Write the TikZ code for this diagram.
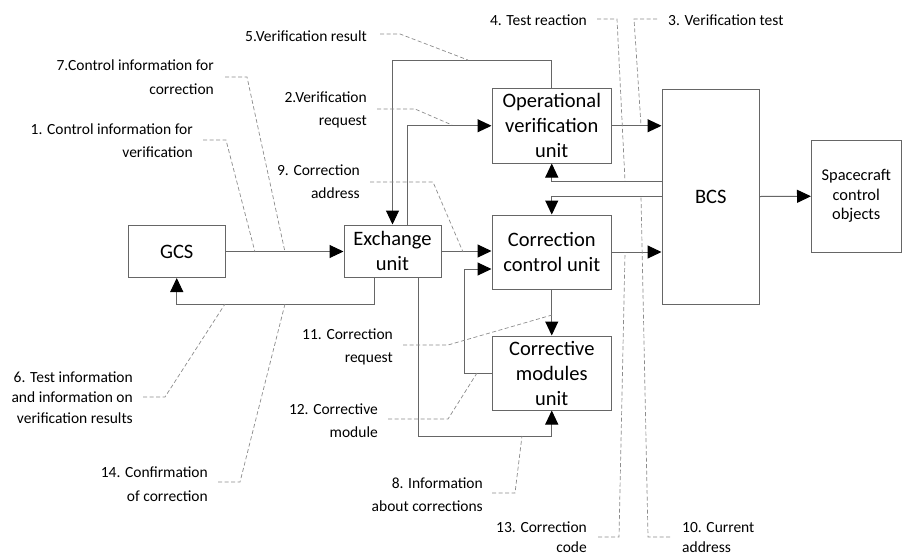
\documentclass[tikz,border=0pt]{standalone}
\usepackage{fontspec}
\setmainfont{Carlito}
\usetikzlibrary{arrows.meta}

\begin{document}
\begin{tikzpicture}[x=1pt,y=-1pt,
  blk/.style={draw=black!60, line width=1pt, inner sep=0pt, align=center,
              font=\fontsize{20.5}{25}\selectfont},
  arr/.style={draw=black!60, line width=1pt,
              -{Triangle[length=14pt,width=13pt,color=black]}},
  lead/.style={draw=black!45, line width=0.7pt, dash pattern=on 4pt off 2.5pt},
  lbl/.style={inner sep=0pt, font=\fontsize{15.5}{23.5}\selectfont}]
\useasboundingbox (0,0) rectangle (902,555);
\fill[white] (0,0) rectangle (902,555);
\clip (0,0) rectangle (902,555);

% ---------- blocks ----------
\node[blk, minimum width=97.5pt, minimum height=52pt] (gcs) at (176.75,251.5) {GCS};
\node[blk, minimum width=97pt, minimum height=52pt] (ex) at (392.5,251) {Exchange\\unit};
\node[blk, minimum width=119.5pt, minimum height=74.5pt] (ovu) at (551.75,125.75) {Operational\\verification\\unit};
\node[blk, minimum width=119.5pt, minimum height=74pt] (ccu) at (551.75,252) {Correction\\control unit};
\node[blk, minimum width=119.5pt, minimum height=74pt] (cmu) at (551.75,373) {Corrective\\modules\\unit};
\node[blk, minimum width=97.5pt, minimum height=215pt] (bcs) at (710.75,196.5) {BCS};
\node[blk, minimum width=89.5pt, minimum height=112.5pt,
      font=\fontsize{16.4}{19.5}\selectfont] (sc) at (856.25,196.25) {Spacecraft\\control\\objects};

% ---------- connectors ----------
\coordinate (top5) at (393,60);
\coordinate (ret) at (177,304);
\coordinate (low8) at (418,436);
\coordinate (loop) at (464,373);

\draw[arr] (gcs.east) -- (gcs.east -| ex.west);
\draw[arr] (ex.east) -- (ex.east -| ccu.west);
\draw[arr] (ovu.north) |- (ex.north |- top5) -- (ex.north);
\draw[arr] ([xshift=14.5pt]ex.north) |- (ovu.west);
\draw[arr] (ovu.east) -- (ovu.east -| bcs.west);
\draw[arr] ([yshift=15.5pt]bcs.west) -| (ovu.south);
\draw[arr] (bcs.west) -| (ccu.north);
\draw[arr] (ccu.east) -- (ccu.east -| bcs.west);
\draw[arr] (bcs.east) -- (sc.west);
\draw[arr] ([xshift=-18.5pt]ex.south) |- (gcs.south |- ret) -- (gcs.south);
\draw[arr] ([xshift=25.5pt]ex.south) |- (cmu.south |- low8) -- (cmu.south);
\draw[arr] (ccu.south) -- (cmu.north);
\draw[arr] (cmu.west) -- (loop) |- ([yshift=-17pt]ccu.west);

% ---------- labels (base anchor = baseline of the last line) ----------
\node[lbl, anchor=base east] (l5) at (367,41.5) {5.Verification result};
\node[lbl, anchor=base east] (l4) at (587,25.5) {4. Test reaction};
\node[lbl, anchor=base west] (l3) at (668,25.5) {3. Verification test};
\node[lbl, anchor=base east, align=right] (l7) at (214,94) {7.Control information for\\correction};
\node[lbl, anchor=base east, align=right] (l2) at (367,125.5) {2.Verification\\request};
\node[lbl, anchor=base east, align=right] (l1) at (193,157.5) {1. Control information for\\verification};
\node[lbl, anchor=base east, align=right] (l9) at (360,198.5) {9. Correction\\address};
\node[lbl, anchor=base east, align=right] (l11) at (393,362.5) {11. Correction\\request};
\node[lbl, anchor=base east, align=right, font=\fontsize{15.5}{20.8}\selectfont] (l6) at (133,423.7)
  {6. Test information\\and information on\\verification results};
\node[lbl, anchor=base east, align=right] (l12) at (378,437.5) {12. Corrective\\module};
\node[lbl, anchor=base east, align=right] (l14) at (208,501) {14. Confirmation\\of correction};
\node[lbl, anchor=base east, align=right] (l8) at (483,511.5) {8. Information\\about corrections};
\node[lbl, anchor=base east, align=right, font=\fontsize{15.5}{20}\selectfont] (l13) at (587,552.5) {13. Correction\\code};
\node[lbl, anchor=base west, align=left, font=\fontsize{15.5}{20}\selectfont] (l10) at (682,552.5) {10. Current\\address};

% ---------- leader lines ----------
\draw[lead] (380,34) -- (400,34) -- (468,60);
\draw[lead] (597,19) -- (617,19) -- (625,181);
\draw[lead] (657,19) -- (634,19) -- (641,125);
\draw[lead] (225,77) -- (247,77) -- (285,252);
\draw[lead] (203,140) -- (226,140) -- (255,252);
\draw[lead] (377,109) -- (415,109) -- (452,125);
\draw[lead] (370,182) -- (433,182) -- (463,252);
\draw[lead] (403,345) -- (448,345) -- (552,315);
\draw[lead] (388,419) -- (448,419) -- (477,373);
\draw[lead] (492,493) -- (515,493) -- (522,436);
\draw[lead] (143,397) -- (165,397) -- (225,304);
\draw[lead] (218,482) -- (240,482) -- (285,304);
\draw[lead] (598,537) -- (619,537) -- (625,252);
\draw[lead] (670,537) -- (648,537) -- (641,196);
\end{tikzpicture}
\end{document}
